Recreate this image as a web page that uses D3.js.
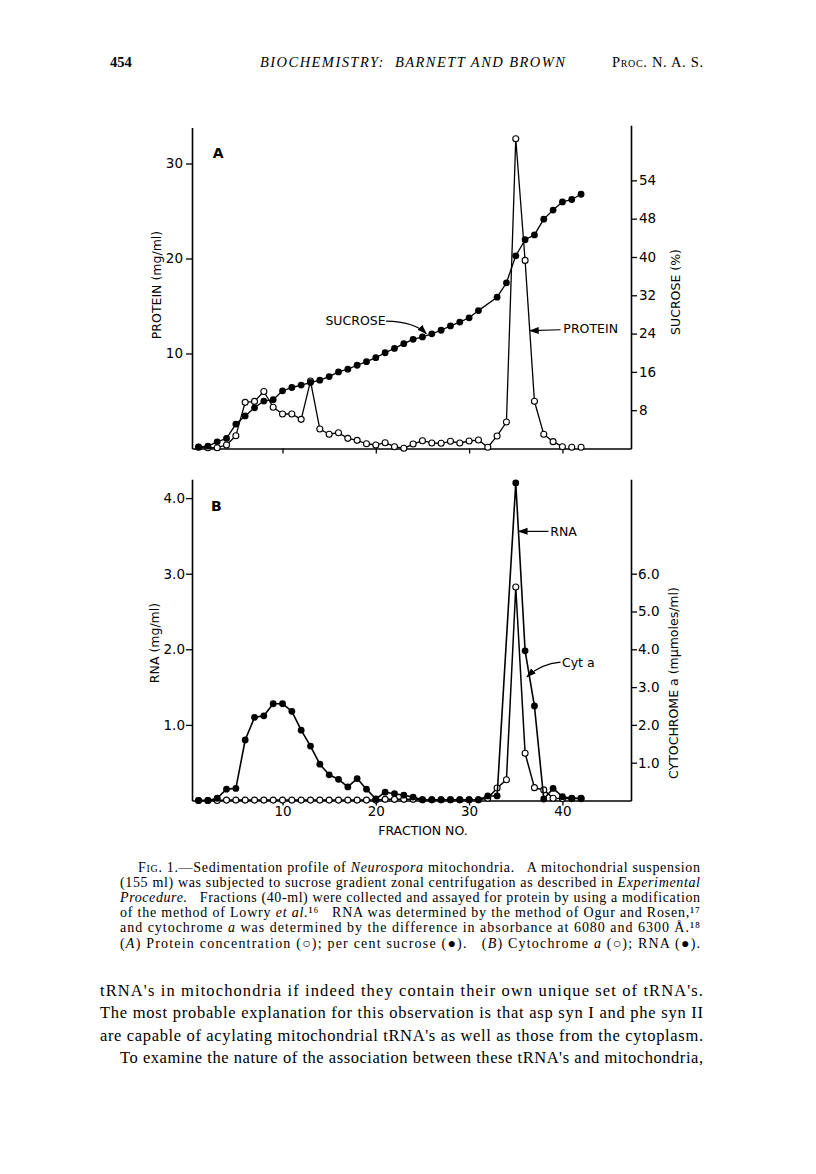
<!DOCTYPE html>
<html>
<head>
<meta charset="utf-8">
<script src="https://cdn.jsdelivr.net/npm/d3@7"></script>
<style>
  body { margin: 0; background: #fff; }
  svg { display: block; }
</style>
</head>
<body>
<div id="chart"></div>
<script>
// ---- data ----
// panel A: protein (open circles, mg/ml) and sucrose (filled circles, %)
const proteinFractions = d3.range(1, 41);
const proteinValues = [0.13, 0.08, 0.08, 0.37, 1.35, 4.86, 4.96, 6.0, 4.34, 3.63,
                       3.63, 3.07, 7.1, 2.05, 1.5, 1.66, 1.07, 0.86, 0.5, 0.37,
                       0.61, 0.19, 0.02, 0.47, 0.82, 0.58, 0.55, 0.76, 0.58, 0.79,
                       0.89, 0.13, 1.32, 2.79, 32.6, 19.8, 4.97, 1.5, 0.72, 0.19];
const proteinLooseFractions = [41, 42];
const proteinLooseValues = [0.13, 0.13];

const sucroseFractions = d3.range(1, 32).concat(d3.range(33, 43));
const sucroseValues = [0.35, 0.5, 1.4, 2.1, 5.1, 6.8, 8.5, 9.9, 10.2, 12.05,
                       12.74, 13.24, 13.78, 14.28, 15.02, 16.0, 16.56, 17.39, 18.14, 18.97,
                       20.0, 20.9, 21.9, 22.8, 23.3, 23.96, 24.7, 25.6, 26.4, 27.3,
                       28.8, 31.6, 34.6, 40.25, 43.6, 44.6, 47.9, 49.8, 51.5, 52.0, 53.1];

// panel B: RNA (filled circles, mg/ml) and cytochrome a (open circles, mumoles/ml)
const rnaFractions = d3.range(1, 34).concat(d3.range(35, 43));
const rnaValues = [0, 0, 0.03, 0.15, 0.16, 0.80, 1.10, 1.12, 1.28, 1.28,
                   1.18, 0.93, 0.72, 0.48, 0.34, 0.28, 0.18, 0.29, 0.15, 0.02,
                   0.11, 0.09, 0.07, 0.045, 0.01, 0.01, 0.01, 0.01, 0.01, 0.01,
                   0.01, 0.06, 0.06, 4.2, 1.98, 1.25, 0.02, 0.16, 0.05, 0.03, 0.03];

const cytFractions = d3.range(1, 43);
const cytValues = [0, 0, 0, 0.01, 0.01, 0.01, 0.01, 0.01, 0.01, 0.01,
                   0.01, 0.01, 0.01, 0.01, 0.01, 0.01, 0.01, 0.01, 0.01, 0.01,
                   0.03, 0.03, 0.03, 0.03, 0.02, 0.02, 0.02, 0.02, 0.02, 0.02,
                   0.02, 0.06, 0.33, 0.55, 5.65, 1.25, 0.34, 0.28, 0.06, 0.05, 0.05, 0.05];

// ticks
const fractionTicks = [10, 20, 30, 40];
const proteinTicks = [10, 20, 30];
const sucroseTicks = [8, 16, 24, 32, 40, 48, 56];
const sucroseTickLabels = ['8', '16', '24', '32', '40', '48', '54'];
const rnaTicks = [1, 2, 3, 4];
const cytTicks = [1, 2, 3, 4, 5, 6];

const zip = (xs, ys) => xs.map((f, i) => [f, ys[i]]);

// ---- page ----
const width = 816, height = 1174;
const svg = d3.select('#chart').append('svg')
    .attr('width', width)
    .attr('height', height);

const sans = '"DejaVu Sans", sans-serif';
const serif = '"Liberation Serif", "DejaVu Serif", serif';

svg.append('defs').append('marker')
    .attr('id', 'arrow')
    .attr('markerUnits', 'userSpaceOnUse')
    .attr('markerWidth', 10).attr('markerHeight', 8)
    .attr('refX', 9).attr('refY', 4)
    .attr('orient', 'auto')
    .append('path').attr('d', 'M0,0.5 L10,4 L0,7.5 Z').attr('fill', '#000');

const x = d3.scaleLinear().domain([0.3, 47.35]).range([192, 631]);
const yProt = d3.scaleLinear().domain([0, 33.8]).range([448.5, 127.4]);
const ySuc = d3.scaleLinear().domain([0, 67.5]).range([448.5, 125.3]);
const yRna = d3.scaleLinear().domain([0, 4.25]).range([800.5, 479.2]);
const yCyt = d3.scaleLinear().domain([0, 8.5]).range([800.5, 479.2]);

function styleAxis(g) {
    g.attr('font-family', sans).attr('font-size', 13.5);
    g.select('.domain').attr('stroke-width', 1.6);
    g.selectAll('.tick line').attr('stroke-width', 1.3);
    g.selectAll('.tick text').attr('fill', '#000');
}

// panel A axes
svg.append('g').attr('transform', `translate(${x(0.3)},0)`)
    .call(d3.axisLeft(yProt).tickValues(proteinTicks).tickSize(6).tickSizeOuter(0).tickPadding(3))
    .call(styleAxis);
svg.append('g').attr('transform', `translate(${x(47.35)},0)`)
    .call(d3.axisRight(ySuc).tickValues(sucroseTicks).tickFormat((d, i) => sucroseTickLabels[i])
        .tickSize(6).tickSizeOuter(0).tickPadding(2))
    .call(styleAxis);
svg.append('g').attr('transform', `translate(0,${yProt(0)})`)
    .call(d3.axisBottom(x).tickValues(fractionTicks).tickFormat('').tickSize(5).tickSizeOuter(0))
    .call(styleAxis);

// panel B axes
svg.append('g').attr('transform', `translate(${x(0.3)},0)`)
    .call(d3.axisLeft(yRna).tickValues(rnaTicks).tickFormat(d3.format('.1f')).tickSize(6).tickSizeOuter(0).tickPadding(1))
    .call(styleAxis);
svg.append('g').attr('transform', `translate(${x(47.35)},0)`)
    .call(d3.axisRight(yCyt).tickValues(cytTicks).tickFormat(d3.format('.1f')).tickSize(6).tickSizeOuter(0).tickPadding(1))
    .call(styleAxis);
svg.append('g').attr('transform', `translate(0,${yRna(0)})`)
    .call(d3.axisBottom(x).tickValues(fractionTicks).tickSize(5).tickSizeOuter(0).tickPadding(1))
    .call(styleAxis);

// axis titles
function vTitle(tx, ty, text) {
    svg.append('text')
        .attr('transform', `translate(${tx},${ty}) rotate(-90)`)
        .attr('text-anchor', 'middle')
        .attr('font-family', sans).attr('font-size', 12.5)
        .text(text);
}
vTitle(161, 285, 'PROTEIN (mg/ml)');
vTitle(680, 292, 'SUCROSE (%)');
vTitle(159, 643, 'RNA (mg/ml)');
vTitle(678, 683, 'CYTOCHROME a (mμmoles/ml)');

svg.append('text')
    .attr('x', 423).attr('y', 835)
    .attr('text-anchor', 'middle')
    .attr('font-family', sans).attr('font-size', 12.5)
    .text('FRACTION NO.');

// series drawing
function series(data, xs, ys, lw) {
    const g = svg.append('g');
    g.append('path')
        .datum(data)
        .attr('fill', 'none')
        .attr('stroke', '#000')
        .attr('stroke-width', lw)
        .attr('stroke-linejoin', 'round')
        .attr('d', d3.line().x(d => xs(d[0])).y(d => ys(d[1])));
    return g;
}
function dots(g, data, xs, ys, filled) {
    g.selectAll('circle')
        .data(data)
        .enter().append('circle')
        .attr('cx', d => xs(d[0]))
        .attr('cy', d => ys(d[1]))
        .attr('r', filled ? 3.4 : 3.0)
        .attr('fill', filled ? '#000' : '#fff')
        .attr('stroke', '#000')
        .attr('stroke-width', filled ? 0 : 1.1);
}

const protData = zip(proteinFractions, proteinValues);
const protLoose = zip(proteinLooseFractions, proteinLooseValues);
const sucData = zip(sucroseFractions, sucroseValues);
const rnaData = zip(rnaFractions, rnaValues);
const cytData = zip(cytFractions, cytValues);

// lines first, then open, then filled markers
const gProt = series(protData, x, yProt, 1.3);
const gSuc = series(sucData, x, ySuc, 1.3);
const gCyt = series(cytData, x, yCyt, 1.5);
const gRna = series(rnaData, x, yRna, 1.6);

dots(gProt, protData, x, yProt, false);
dots(svg.append('g'), protLoose, x, yProt, false);
dots(gSuc, sucData, x, ySuc, true);
dots(gCyt, cytData, x, yCyt, false);
dots(gRna, rnaData, x, yRna, true);

// panel letters
svg.append('text').attr('x', x(3.1)).attr('y', yProt(31.1) + 5)
    .attr('text-anchor', 'middle').attr('font-family', sans).attr('font-weight', 'bold').attr('font-size', 14)
    .text('A');
svg.append('text').attr('x', x(2.9)).attr('y', yRna(3.9) + 5)
    .attr('text-anchor', 'middle').attr('font-family', sans).attr('font-weight', 'bold').attr('font-size', 14)
    .text('B');

// annotations with arrows
function label(tx, ty, text) {
    svg.append('text').attr('x', tx).attr('y', ty + 4.5)
        .attr('font-family', sans).attr('font-size', 12.5)
        .text(text);
}
function arrow(d) {
    svg.append('path').attr('d', d)
        .attr('fill', 'none').attr('stroke', '#000').attr('stroke-width', 1.2)
        .attr('marker-end', 'url(#arrow)');
}
label(x(14.6), ySuc(26.7), 'SUCROSE');
arrow(`M${x(21.1)},${ySuc(26.6)} Q${x(24.1)},${ySuc(26.5)} ${x(25.4)},${ySuc(24.0)}`);

label(x(40.1), yProt(12.65), 'PROTEIN');
arrow(`M${x(39.8)},${yProt(12.5)} L${x(36.5)},${yProt(12.4)}`);

label(x(38.7), yRna(3.56), 'RNA');
arrow(`M${x(38.5)},${yRna(3.56)} L${x(35.3)},${yRna(3.56)}`);

label(x(39.95), yCyt(3.65), 'Cyt a');
arrow(`M${x(39.8)},${yCyt(3.66)} Q${x(37.7)},${yCyt(3.62)} ${x(36.2)},${yCyt(3.27)}`);

// ---- page text ----
function textLine(tx, ty, len, size, parts) {
    const t = svg.append('text')
        .attr('x', tx).attr('y', ty)
        .attr('font-family', serif).attr('font-size', size)
        .attr('fill', '#000')
        .style('white-space', 'pre');
    if (len) t.attr('textLength', len).attr('lengthAdjust', 'spacing');
    parts.forEach(p => {
        const s = t.append('tspan').text(p.t);
        if (p.i) s.attr('font-style', 'italic');
        if (p.sc) s.attr('font-variant', 'small-caps');
        if (p.b) s.attr('font-weight', 'bold');
    });
    return t;
}

textLine(110, 67, null, 14.5, [{t: '454', b: true}]);
textLine(260, 67, 305, 14.5, [{t: 'BIOCHEMISTRY:  BARNETT AND BROWN', i: true}]);
textLine(612, 67, 91, 14.5, [{t: 'Proc. N. A. S.', sc: true}]);

const captionLines = [
    [138, 562, [{t: 'Fig. 1.', sc: true}, {t: '—Sedimentation profile of '}, {t: 'Neurospora', i: true}, {t: ' mitochondria.   A mitochondrial suspension'}]],
    [120, 580, [{t: '(155 ml) was subjected to sucrose gradient zonal centrifugation as described in '}, {t: 'Experimental', i: true}]],
    [120, 580, [{t: 'Procedure.', i: true}, {t: '   Fractions (40-ml) were collected and assayed for protein by using a modification'}]],
    [120, 580, [{t: 'of the method of Lowry '}, {t: 'et al.', i: true}, {t: '¹⁶   RNA was determined by the method of Ogur and Rosen,¹⁷'}]],
    [120, 580, [{t: 'and cytochrome '}, {t: 'a', i: true}, {t: ' was determined by the difference in absorbance at 6080 and 6300 Å.¹⁸'}]],
    [120, 580, [{t: '('}, {t: 'A', i: true}, {t: ') Protein concentration (○); per cent sucrose (●).   ('}, {t: 'B', i: true}, {t: ') Cytochrome '}, {t: 'a', i: true}, {t: ' (○); RNA (●).'}]]
];
captionLines.forEach((l, i) => textLine(l[0], 872 + i * 15.1, l[1], 14, l[2]));

const bodyLines = [
    [100, 603, "tRNA's in mitochondria if indeed they contain their own unique set of tRNA's."],
    [100, 603, 'The most probable explanation for this observation is that asp syn I and phe syn II'],
    [100, 603, "are capable of acylating mitochondrial tRNA's as well as those from the cytoplasm."],
    [120, 583, "To examine the nature of the association between these tRNA's and mitochondria,"]
];
bodyLines.forEach((l, i) => textLine(l[0], 996 + i * 22.4, l[1], 16.5, [{t: l[2]}]));
</script>
</body>
</html>
